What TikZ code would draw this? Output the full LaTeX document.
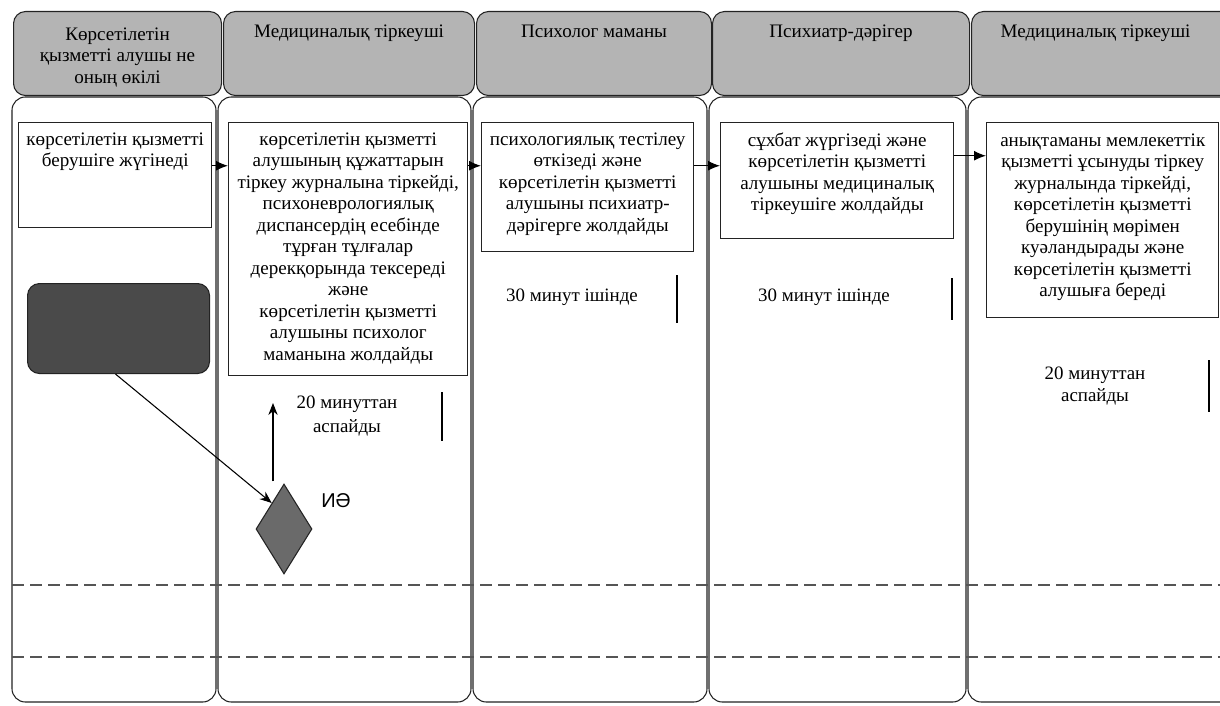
\documentclass[tikz,border=0pt]{standalone}
\usepackage{fontspec}
\setmainfont{Liberation Serif}
\newfontfamily\sansf{Liberation Sans}
\usetikzlibrary{arrows.meta,shapes.geometric,calc}
\newdimen\pxu \pxu=0.75pt
\newcommand\bxt[4]{\parbox[c][#2\pxu][t]{#1\pxu}{\centering\vspace*{#3\pxu}#4\par}}
\definecolor{hdrgray}{RGB}{180,180,180}
\definecolor{darkfill}{RGB}{74,74,74}
\definecolor{diafill}{RGB}{106,106,106}
\definecolor{dashgray}{RGB}{85,85,85}
\definecolor{edge}{RGB}{35,35,35}
\tikzset{
  lane/.style={draw=edge, line width=0.8pt, rounded corners=10pt, fill=white},
  hdr/.style={draw=edge, line width=0.8pt, rounded corners=9pt, fill=hdrgray, inner sep=0pt, anchor=north west},
  stepbox/.style={draw=edge, line width=1.1pt, fill=white, inner sep=0pt, anchor=north west},
  arr/.style={draw=black, line width=0.9pt, -{Latex[length=9pt,width=7.5pt]}},
  arrthin/.style={draw=black, line width=0.8pt, -{Stealth[length=9pt,width=7pt]}},
  dashline/.style={draw=dashgray, line width=1.1pt, dash pattern=on 9pt off 4.5pt},
  bar/.style={draw=black, line width=0.8pt},
  timetxt/.style={align=center, font=\fontsize{14.2}{17.5}\selectfont},
}
\begin{document}
\begin{tikzpicture}[x=0.75pt,y=-0.75pt, font=\fontsize{14.3}{16.1}\selectfont]
\useasboundingbox (0,0) rectangle (1220,706);
\fill[white] (0,0) rectangle (1220,706);

% lanes
\draw[lane] (12,97) rectangle (216,702);
\draw[lane] (218,97) rectangle (471,702);
\draw[lane] (473,97) rectangle (707,702);
\draw[lane] (709,97) rectangle (966,702);
\draw[lane] (968,97) rectangle (1250,702);

% dashed rows
\draw[dashline] (12,585) -- (1220,585);
\draw[dashline] (12,657) -- (1220,657);

% headers
\node[hdr] (h1) at (13,11) {\bxt{208}{84}{16}{Көрсетілетін\\қызметті алушы не\\оның өкілі}};
\node[hdr] (h2) at (223,11) {\bxt{251}{84}{13}{Медициналық тіркеуші}};
\node[hdr] (h3) at (476,11) {\bxt{235}{84}{13}{Психолог маманы}};
\node[hdr] (h4) at (712,11) {\bxt{257}{84}{13}{Психиатр-дәрігер}};
\node[hdr] (h5) at (971,11) {\bxt{262}{84}{13}{\hspace*{-14\pxu}Медициналық тіркеуші}};

% process boxes
\node[stepbox] (b1) at (18,122) {\bxt{193}{105}{10}{көрсетілетін қызметті\\берушіге жүгінеді}};
\node[stepbox] (b2) at (228,122) {\bxt{239}{253}{10}{көрсетілетін қызметті\\алушының құжаттарын\\тіркеу журналына тіркейді,\\психоневрологиялық\\диспансердің есебінде\\тұрған тұлғалар\\дерекқорында тексереді\\және\\көрсетілетін қызметті\\алушыны психолог\\маманына жолдайды}};
\node[stepbox] (b3) at (481,122) {\bxt{212}{129}{10}{психологиялық тестілеу\\өткізеді және\\көрсетілетін қызметті\\алушыны психиатр-\\дәрігерге жолдайды}};
\node[stepbox] (b4) at (720,122) {\bxt{233}{116}{10}{сұхбат жүргізеді және\\көрсетілетін қызметті\\алушыны медициналық\\тіркеушіге жолдайды}};
\node[stepbox] (b5) at (986,122) {\bxt{232}{195}{11}{анықтаманы мемлекеттік\\қызметті ұсынуды тіркеу\\журналында тіркейді,\\көрсетілетін қызметті\\берушінің мөрімен\\куәландырады және\\көрсетілетін қызметті\\алушыға береді}};

% dark start block and diamond
\node[draw=edge, line width=0.8pt, fill=darkfill, rounded corners=9pt, anchor=north west,
      minimum width=182\pxu, minimum height=90\pxu, inner sep=0pt] (dk) at (27,283) {};
\node[diamond, draw=edge, line width=0.8pt, fill=diafill, inner sep=0pt, aspect=0.62,
      minimum width=56\pxu, minimum height=90\pxu] (dm) at (284,529) {};
\node[font=\sansf\fontsize{15}{17}\selectfont] (ie) at (336,501) {ИӘ};

% connectors
\coordinate (r1) at ($(b1.east)+(0,-9.5)$);
\draw[arr] (r1) -- (r1 -| b2.west);
\draw[arr] (r1 -| b2.east) -- (r1 -| b3.west);
\draw[arr] (r1 -| b3.east) -- (r1 -| b4.west);
\coordinate (r4) at ($(b4.east)+(0,-25)$);
\draw[arr] (r4) -- (r4 -| b5.west);
\draw[arrthin] ($(dk.south)+(-3,0)$) -- ($(dm.west)!0.57!(dm.north)$);
\coordinate (upend) at (273,403);
\draw[arrthin] ($(upend |- dm.north)+(0,-2)$) -- (upend);

% time labels
\node[timetxt] (t2) at (347,416) {20 минуттан\\аспайды};
\node[timetxt] (t3) at (572,297) {30 минут ішінде};
\node[timetxt] (t4) at (824,297) {30 минут ішінде};
\node[timetxt, font=\fontsize{14.2}{16}\selectfont] (t5) at (1095,386) {20 минуттан\\аспайды};

% side bars
\draw[bar] (442,392) -- (442,441);
\draw[bar] (677,275) -- (677,323);
\draw[bar] (952,278) -- (952,320);
\draw[bar] (1209,360) -- (1209,412);
\end{tikzpicture}
\end{document}
